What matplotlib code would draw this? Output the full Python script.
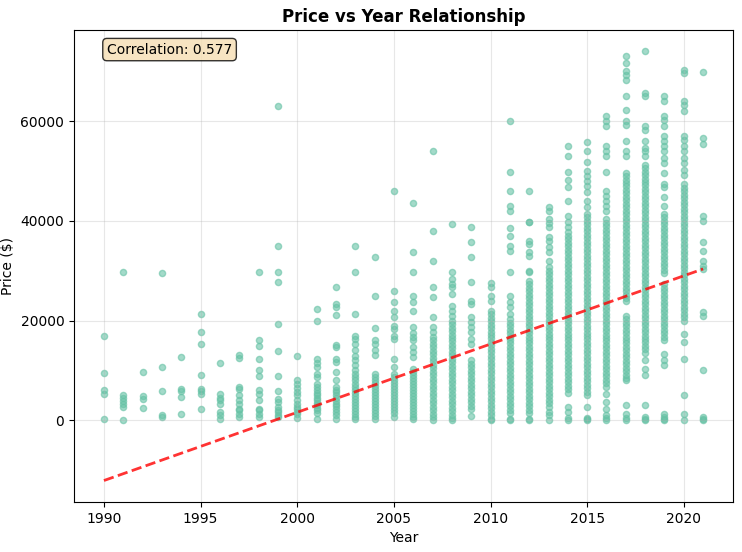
import numpy as np
import matplotlib
matplotlib.use("Agg")
import matplotlib.pyplot as plt

# prices, in thousands of dollars, one list per model year
y1990 = [17.0, 9.4, 6.0, 5.3, 0.3]
y1991 = [29.8, 5.0, 4.4, 3.8, 3.2, 2.7, 0.0]
y1992 = [9.7, 4.8, 4.2, 2.5]
y1993 = [29.5, 10.7, 5.8, 1.0, 0.6]
y1994 = [12.7, 6.3, 5.8, 4.7, 1.3]
y1995 = [21.3, 17.8, 15.3, 9.0, 6.3, 5.8, 5.3, 2.2]
y1996 = [11.4, 5.3, 4.5, 4.0, 3.3, 1.7, 1.0, 0.3]
y1997 = [13.0, 12.4, 6.7, 6.3, 5.0, 4.0, 3.3, 2.3, 2.0, 1.3, 0.7]
y1998 = [29.8, 16.0, 14.8, 12.3, 10.0, 8.8, 6.0, 5.3, 4.0, 2.3, 2.0, 1.3, 0.7]
y1999 = [63.0, 34.9, 29.8, 27.8, 19.3, 13.9, 8.8, 5.8, 4.3, 3.7, 2.7, 2.0, 1.7, 1.0, 0.7]
y2000 = [12.9, 8.0, 7.3, 6.5, 5.7, 5.0, 4.0, 3.3, 2.7, 2.2, 1.7, 1.3, 0.5]
y2001 = [22.3, 19.9, 12.3, 11.5, 10.7, 9.3, 8.7, 7.3, 6.7, 6.0, 5.5, 5.0, 4.5, 4.0,
         3.5, 3.0, 2.5, 2.0, 1.5, 0.3]
y2002 = [26.8, 23.3, 22.7, 21.1, 15.0, 14.7, 12.3, 11.7, 9.7, 8.0, 6.7, 6.1, 5.6, 5.0,
         4.4, 3.9, 3.3, 2.8, 2.2, 1.6, 1.0, 0.3]
y2003 = [34.9, 29.8, 21.3, 16.9, 16.3, 15.3, 14.0, 12.9, 12.0, 11.0, 10.0, 9.3, 8.7, 8.0,
         7.3, 6.7, 6.0, 5.4, 4.8, 4.2, 3.6, 3.0, 2.4, 1.8, 1.2, 0.6, 0.3]
y2004 = [32.8, 24.9, 18.5, 16.0, 15.3, 14.1, 13.0, 9.3, 8.6, 8.0, 7.4, 6.8, 6.2, 5.6,
         5.0, 4.4, 3.8, 3.2, 2.6, 2.0, 1.4, 0.8, 0.3]
y2005 = [45.9, 26.0, 23.8, 22.0, 20.7, 18.9, 18.3, 17.0, 16.3, 12.3, 10.7, 9.3, 8.7, 8.1,
         7.5, 6.9, 6.3, 5.7, 5.1, 4.5, 3.9, 3.3, 2.7, 2.1, 1.5, 0.7]
y2006 = [43.5, 33.8, 29.8, 24.9, 23.7, 22.0, 18.7, 17.6, 16.7, 16.0, 14.7, 13.7, 12.7,
         10.3, 9.7, 9.0, 8.4, 7.8, 7.2, 6.6, 6.0, 5.4, 4.8, 4.2, 3.6, 3.0, 2.4, 1.8, 1.2,
         0.6, 0.3]
y2007 = [54.0, 37.9, 31.9, 26.8, 24.7, 20.8, 18.8, 17.7, 16.7, 16.0, 15.3, 14.6, 13.9,
         13.2, 12.5, 11.8, 11.1, 10.4, 9.7, 9.0, 8.3, 7.6, 6.9, 6.2, 5.5, 4.8, 4.1, 3.4,
         2.7, 2.0, 1.3, 0.6, 0.0]
y2008 = [39.3, 29.8, 28.3, 27.3, 26.7, 25.3, 23.0, 22.0, 21.0, 20.0, 19.3, 18.6, 17.9,
         17.2, 16.5, 15.8, 15.1, 14.4, 13.7, 13.0, 12.3, 11.6, 10.9, 10.2, 9.5, 8.8, 8.1,
         7.4, 6.7, 6.0, 5.3, 4.6, 3.9, 3.2, 2.5, 1.8, 1.1, 0.5, 0.0]
y2009 = [38.8, 35.8, 32.8, 27.8, 24.0, 23.3, 20.7, 19.7, 18.7, 17.7, 16.3, 15.3, 12.0,
         11.3, 10.6, 9.9, 9.2, 8.5, 7.8, 7.1, 6.4, 5.7, 5.0, 4.3, 3.6, 2.9, 2.2, 0.8]
y2010 = [27.5, 26.7, 25.0, 24.0, 22.0, 21.3, 20.6, 19.9, 19.2, 18.5, 17.8, 17.1, 16.4,
         15.7, 15.0, 14.3, 13.6, 12.9, 12.2, 11.5, 10.8, 10.1, 9.4, 8.7, 8.0, 7.3, 6.6,
         5.9, 5.2, 4.5, 3.8, 3.1, 2.4, 1.7, 1.0, 0.3, 0.0]
y2011 = [60.0, 49.9, 46.0, 43.0, 42.0, 38.5, 37.0, 35.0, 34.0, 29.8, 25.0, 23.7, 22.7,
         21.3, 20.3, 19.6, 18.9, 18.2, 17.5, 16.8, 16.1, 15.4, 14.7, 14.0, 13.3, 12.6,
         11.9, 11.2, 10.5, 9.8, 9.1, 8.4, 7.7, 7.0, 6.3, 5.6, 4.9, 4.2, 3.5, 2.8, 2.1,
         1.4, 0.3, 0.0]
y2012 = [46.0, 39.8, 39.7, 36.0, 35.3, 33.7, 33.0, 30.0, 29.7, 28.0, 27.3, 26.6, 25.9,
         25.2, 24.5, 23.8, 23.1, 22.4, 21.7, 21.0, 20.3, 19.6, 18.9, 18.2, 17.5, 16.8,
         16.1, 15.4, 14.7, 14.0, 13.3, 12.6, 11.9, 11.2, 10.5, 9.8, 9.1, 8.4, 7.7, 7.0,
         6.3, 5.6, 4.9, 4.2, 3.5, 2.8, 2.1, 1.4, 0.3, 0.0]
y2013 = [42.8, 42.0, 40.3, 39.5, 38.7, 36.7, 36.0, 34.7, 33.7, 32.0, 30.7, 30.0, 29.3,
         28.6, 27.9, 27.2, 26.5, 25.8, 25.1, 24.4, 23.7, 23.0, 22.3, 21.6, 20.9, 20.2,
         19.5, 18.8, 18.1, 17.4, 16.7, 16.0, 15.3, 14.6, 13.9, 13.2, 12.5, 11.8, 11.1,
         10.4, 9.7, 9.0, 8.3, 7.6, 6.9, 6.2, 5.5, 4.8, 4.1, 3.4, 2.7, 1.7, 1.0, 0.0]
y2014 = [55.0, 53.0, 49.9, 48.3, 46.8, 43.9, 41.0, 39.7, 38.7, 37.7, 37.0, 36.3, 35.6,
         34.9, 34.2, 33.5, 32.8, 32.1, 31.4, 30.7, 30.0, 29.3, 28.6, 27.9, 27.2, 26.5,
         25.8, 25.1, 24.4, 23.7, 23.0, 22.3, 21.6, 20.9, 20.2, 19.5, 18.8, 18.1, 17.4,
         16.7, 16.0, 15.3, 14.6, 13.9, 13.2, 12.5, 11.8, 11.1, 10.4, 9.7, 9.0, 8.3, 7.6,
         6.9, 6.2, 5.5, 2.7, 1.7, 0.4, 0.0]
y2015 = [55.9, 54.0, 51.9, 50.0, 49.0, 48.0, 47.0, 45.7, 44.0, 42.7, 41.3, 40.7, 40.0,
         39.3, 38.6, 37.9, 37.2, 36.5, 35.8, 35.1, 34.4, 33.7, 33.0, 32.3, 31.6, 30.9,
         30.2, 29.5, 28.8, 28.1, 27.4, 26.7, 26.0, 25.3, 24.6, 23.9, 23.2, 22.5, 21.8,
         21.1, 20.4, 19.7, 19.0, 18.3, 17.6, 16.9, 16.2, 15.5, 14.8, 14.1, 13.4, 12.7,
         12.0, 11.3, 10.6, 9.9, 9.2, 8.5, 7.8, 7.1, 6.4, 5.7, 5.0, 2.7, 0.5, 0.3, 0.0]
y2016 = [61.0, 60.0, 59.0, 55.0, 54.0, 53.0, 49.9, 46.0, 45.0, 44.0, 43.0, 42.0, 40.3,
         39.6, 38.9, 38.2, 37.5, 36.8, 36.1, 35.4, 34.7, 34.0, 33.3, 32.6, 31.9, 31.2,
         30.5, 29.8, 29.1, 28.4, 27.7, 27.0, 26.3, 25.6, 24.9, 24.2, 23.5, 22.8, 22.1,
         21.4, 20.7, 20.0, 19.3, 18.6, 17.9, 17.2, 16.5, 15.8, 15.1, 14.4, 13.7, 13.0,
         12.3, 11.6, 10.9, 10.2, 9.5, 8.8, 8.1, 7.4, 6.7, 5.3, 3.7, 2.3, 1.0, 0.4, 0.0]
y2017 = [73.0, 71.7, 70.0, 69.3, 68.3, 65.0, 62.3, 60.0, 59.3, 56.0, 54.0, 53.0, 49.7,
         49.0, 48.3, 47.6, 46.9, 46.2, 45.5, 44.8, 44.1, 43.4, 42.7, 42.0, 41.3, 40.6,
         39.9, 39.2, 38.5, 37.8, 37.1, 36.4, 35.7, 35.0, 34.3, 33.6, 32.9, 32.2, 31.5,
         30.8, 30.1, 29.4, 28.7, 28.0, 27.3, 26.6, 25.9, 25.2, 24.5, 24.0, 21.0, 20.3,
         19.6, 18.9, 18.2, 17.5, 16.8, 16.1, 15.4, 14.7, 14.0, 13.3, 12.6, 11.9, 11.2,
         10.5, 9.8, 9.1, 8.4, 8.0, 3.0, 1.3, 0.5, 0.0]
y2018 = [74.0, 65.7, 65.0, 59.0, 58.3, 56.0, 54.7, 54.0, 53.0, 51.3, 50.6, 49.9, 49.2,
         48.5, 47.8, 47.1, 46.4, 45.7, 45.0, 44.3, 43.6, 42.9, 42.2, 41.5, 40.8, 40.1,
         39.4, 38.7, 38.0, 37.3, 36.6, 35.9, 35.2, 34.5, 33.8, 33.1, 32.4, 31.7, 31.0,
         30.3, 29.6, 28.9, 28.2, 27.5, 26.8, 26.1, 25.4, 24.7, 24.0, 23.3, 22.6, 21.9,
         21.2, 20.5, 19.8, 19.1, 18.4, 17.7, 17.0, 16.3, 15.6, 14.9, 14.2, 13.5, 12.0,
         10.3, 9.0, 3.0, 0.7, 0.3, 0.0]
y2019 = [65.0, 64.0, 61.0, 60.3, 59.0, 57.0, 56.0, 55.0, 54.0, 52.7, 51.7, 49.7, 47.3,
         46.7, 44.7, 43.0, 41.3, 40.7, 40.0, 39.3, 38.6, 37.9, 37.2, 36.5, 35.8, 35.1,
         34.4, 33.7, 33.0, 32.3, 31.6, 30.9, 30.2, 29.5, 27.3, 26.6, 25.9, 25.2, 24.5,
         23.8, 23.1, 22.4, 21.7, 21.0, 20.3, 19.6, 18.9, 18.2, 17.5, 16.8, 16.1, 13.3,
         12.0, 11.0, 1.3, 0.7, 0.3, 0.0]
y2020 = [70.3, 69.7, 64.0, 63.3, 62.0, 57.0, 56.3, 55.0, 54.0, 52.7, 51.7, 50.3, 49.3,
         47.3, 46.6, 45.9, 45.2, 44.5, 43.8, 43.1, 42.4, 41.7, 41.0, 40.3, 39.6, 38.9,
         38.2, 37.5, 36.8, 36.1, 35.4, 34.7, 34.0, 33.3, 32.6, 31.9, 31.2, 30.5, 29.8,
         29.1, 28.4, 27.7, 27.0, 26.3, 25.6, 24.9, 24.2, 23.5, 22.8, 22.1, 21.4, 20.7,
         20.0, 17.3, 15.7, 12.3, 5.0, 1.3, 0.0]
y2021 = [69.9, 56.7, 55.5, 41.0, 40.0, 35.8, 34.0, 32.0, 31.0, 30.3, 21.7, 21.0, 10.0,
         0.7, 0.3, 0.0]

year_lists = {1990: y1990, 1991: y1991, 1992: y1992, 1993: y1993, 1994: y1994,
              1995: y1995, 1996: y1996, 1997: y1997, 1998: y1998, 1999: y1999,
              2000: y2000, 2001: y2001, 2002: y2002, 2003: y2003, 2004: y2004,
              2005: y2005, 2006: y2006, 2007: y2007, 2008: y2008, 2009: y2009,
              2010: y2010, 2011: y2011, 2012: y2012, 2013: y2013, 2014: y2014,
              2015: y2015, 2016: y2016, 2017: y2017, 2018: y2018, 2019: y2019,
              2020: y2020, 2021: y2021}

# trend line: value at 1990 and slope per year
trend_at_1990 = -12100
trend_slope = 1369.4
corr_value = 0.577

years = []
prices = []
for yr, vals in year_lists.items():
    years += [yr] * len(vals)
    prices += [v * 1000 for v in vals]
years = np.array(years)
prices = np.array(prices)

fig, ax = plt.subplots(figsize=(7.42, 5.52), dpi=100)
fig.subplots_adjust(left=0.0997, right=0.988, bottom=0.0906, top=0.9457)

ax.scatter(years, prices, s=20, alpha=0.6, color='#66c2a5')

x_line = np.array(sorted(set(years)))
y_line = trend_at_1990 + trend_slope * (x_line - 1990)
ax.plot(x_line, y_line, 'r--', alpha=0.8, linewidth=2)

ax.set_title('Price vs Year Relationship', fontweight='bold')
ax.set_xlabel('Year')
ax.set_ylabel('Price ($)')
ax.grid(True, alpha=0.3)
ax.text(0.05, 0.95, f'Correlation: {corr_value:.3f}', transform=ax.transAxes,
        bbox=dict(boxstyle='round', facecolor='wheat', alpha=0.8))

fig.savefig('out.png', dpi=100)
